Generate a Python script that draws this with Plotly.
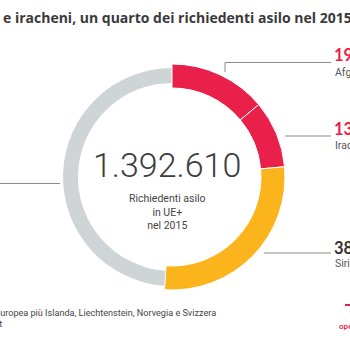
import plotly.graph_objects as go

# ---- data ----
countries = ["Afghanistan", "Iraq", "Siria", "Altri paesi"]
total = 1392610
values_main = [194000, 134000, 383000]
values = values_main + [total - sum(values_main)]
colors = ["#e8204a", "#e8204a", "#fbb41b", "rgba(0,0,0,0)"]
title_text = "e iracheni, un quarto dei richiedenti asilo nel 2015"
center_number = "1.392.610"
center_caption = "Richiedenti asilo<br>in UE+<br>nel 2015"
note_line1 = "UE+: Unione Europea più Islanda, Liechtenstein, Norvegia e Svizzera"
note_line2 = "Fonte: Eurostat"

W = H = 350
CX, CY = 172, 177
R_OUT, R_IN = 113, 89
RG_OUT, RG_IN = 109, 94

def px(x):
    return x / W

def py(y):
    return 1 - y / H

def dom(r):
    return dict(x=[px(CX - r), px(CX + r)], y=[py(CY + r), py(CY - r)])

def fmt(v):
    return f"{v:,}".replace(",", ".")

fig = go.Figure()
# grey ring (others), slightly thinner
fig.add_trace(go.Pie(
    values=values, labels=countries, sort=False, direction="clockwise", rotation=0,
    hole=RG_IN / RG_OUT, domain=dom(RG_OUT), textinfo="none", hoverinfo="skip",
    marker=dict(colors=["rgba(0,0,0,0)"] * 3 + ["#cfd4d7"], line=dict(width=0)),
    showlegend=False,
))
# coloured ring
fig.add_trace(go.Pie(
    values=values, labels=countries, sort=False, direction="clockwise", rotation=0,
    hole=R_IN / R_OUT, domain=dom(R_OUT), textinfo="none", hoverinfo="label+value",
    marker=dict(colors=colors, line=dict(width=[1, 1, 1, 0], color="white")),
    showlegend=False,
))

ann = []
def add_text(x, y, text, size, color, family="Lato", weight="normal", xanchor="left", yanchor="middle", align="left"):
    ann.append(dict(x=px(x), y=py(y), xref="paper", yref="paper", text=text, showarrow=False,
                    xanchor=xanchor, yanchor=yanchor, align=align,
                    font=dict(size=size, color=color, family=family, weight=weight)))

# title
add_text(1, 17, title_text, 14, "#3a3a3a", family="Open Sans", weight="bold")
# center
add_text(167, 165, center_number, 34, "#3d3d3d", family="Roboto", weight=300, xanchor="center")
add_text(167, 212, center_caption, 10.5, "#444444", family="Roboto", xanchor="center", align="center")
# right labels
label_y = [(55, 72), (129, 145), (248, 263)]
num_colors = ["#e8204a", "#e8204a", "#333333"]
for (ny, ly), c, v, nc in zip(label_y, countries[:3], values_main, num_colors):
    add_text(332, ny, fmt(v), 16.5, nc, family="Lato", weight="bold")
    add_text(333, ly, c, 10.5, "#555555", family="Roboto")
# notes
add_text(218, 313, note_line1, 9.1, "#444444", family="Roboto", xanchor="right")
add_text(3.5, 324, note_line2, 9.1, "#444444", family="Roboto", xanchor="right")
add_text(337, 326, "openpolis", 8, "#e8204a", family="Lato", weight="bold")

shapes = []
def line(x0, y0, x1, y1, color="#8a8a8a", width=1):
    shapes.append(dict(type="line", xref="paper", yref="paper", x0=px(x0), y0=py(y0),
                       x1=px(x1), y1=py(y1), line=dict(color=color, width=width)))

line(225, 72, 225, 62.5)
line(225, 62.5, 331, 62.5)
line(285, 136, 331, 136)
line(264, 253, 331, 253)
line(0, 183.5, 60, 183.5)
line(345, 305, 350, 305, color="#e8204a", width=2)

fig.update_layout(
    width=W, height=H, margin=dict(l=0, r=0, t=0, b=0),
    paper_bgcolor="white", plot_bgcolor="white",
    annotations=ann, shapes=shapes,
)
fig.write_html("out.html")
